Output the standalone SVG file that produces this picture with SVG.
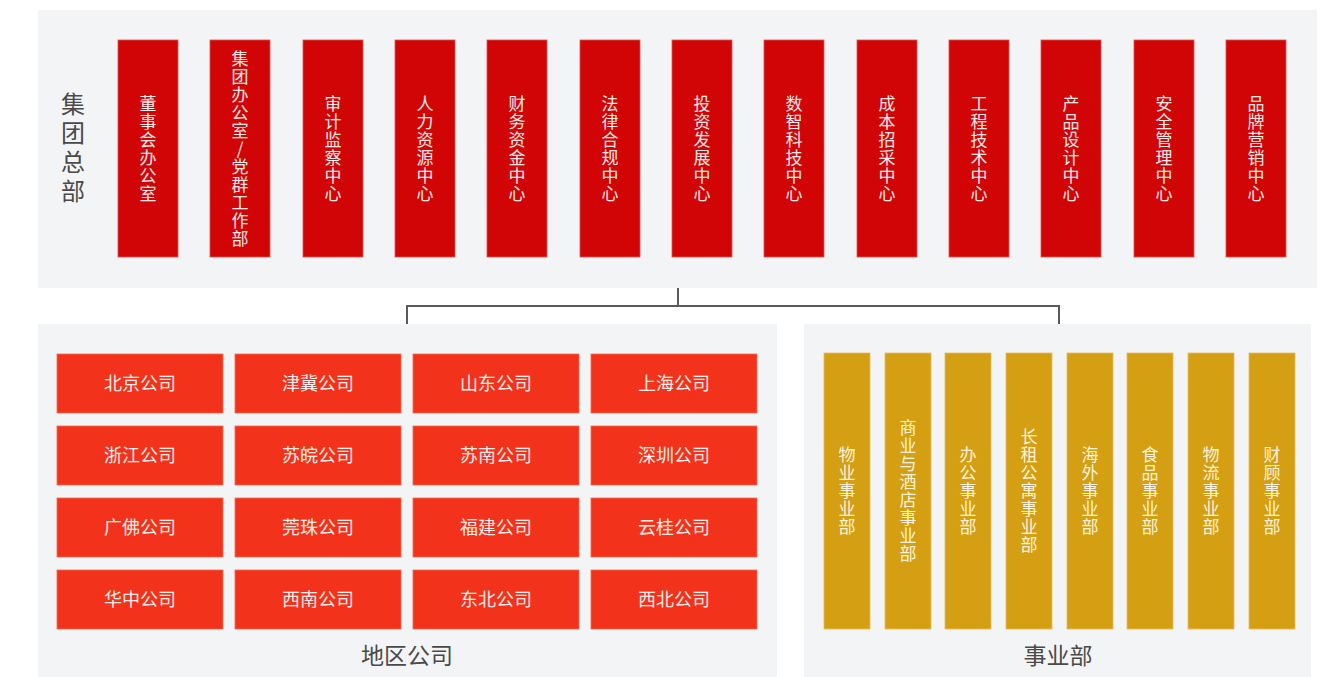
<svg xmlns="http://www.w3.org/2000/svg" width="1329" height="677" viewBox="0 0 1329 677">
<style>
.panel{fill:#f3f4f6}
.hq{fill:#d10505;stroke:#e45050;stroke-width:0.8}
.reg{fill:#f2321b;stroke:#f56a50;stroke-width:0.8}
.biz{fill:#d59f13;stroke:#e6bd55;stroke-width:0.8}
.vt,.vy,.vl{font-family:"Noto Sans CJK SC","Noto Sans",sans-serif;text-anchor:middle;writing-mode:vertical-rl;text-orientation:upright}
.vt{font-size:17px;fill:#fbeaea;letter-spacing:1px}
.vy{font-size:17px;fill:#fdf3dc;letter-spacing:1px}
.vl{font-size:24px;fill:#4a4a4a;letter-spacing:5px}
.ht{font-family:"Noto Sans CJK SC","Noto Sans",sans-serif;font-size:18px;fill:#fdeeea;text-anchor:middle}
.lbl{font-family:"Noto Sans CJK SC","Noto Sans",sans-serif;font-size:23px;fill:#4a4a4a;text-anchor:middle}
.conn{fill:none;stroke:#5a5a5a;stroke-width:2}
</style>
<rect width="1329" height="677" fill="#ffffff"/>
<g id="panels">
<rect class="panel" x="38" y="10" width="1279" height="278"/>
<rect class="panel" x="38" y="324" width="739" height="353"/>
<rect class="panel" x="804" y="324" width="507" height="353"/>
</g>
<g id="hq-label"><text class="vl" x="73" y="150">集团总部</text></g>
<g id="connectors">
<path class="conn" d="M678 288 V306 M407 306 H1059 M407 305 V324 M1059 305 V324"/>
</g>
<g id="hq1"><rect class="hq" x="118" y="40" width="60" height="217"/><text class="vt" x="148" y="149">董事会办公室</text></g>
<g id="hq2"><rect class="hq" x="210" y="40" width="60" height="217"/><text class="vt" x="240" y="149">集团办公室/党群工作部</text></g>
<g id="hq3"><rect class="hq" x="303" y="40" width="60" height="217"/><text class="vt" x="333" y="149">审计监察中心</text></g>
<g id="hq4"><rect class="hq" x="395" y="40" width="60" height="217"/><text class="vt" x="425" y="149">人力资源中心</text></g>
<g id="hq5"><rect class="hq" x="487" y="40" width="60" height="217"/><text class="vt" x="517" y="149">财务资金中心</text></g>
<g id="hq6"><rect class="hq" x="580" y="40" width="60" height="217"/><text class="vt" x="610" y="149">法律合规中心</text></g>
<g id="hq7"><rect class="hq" x="672" y="40" width="60" height="217"/><text class="vt" x="702" y="149">投资发展中心</text></g>
<g id="hq8"><rect class="hq" x="764" y="40" width="60" height="217"/><text class="vt" x="794" y="149">数智科技中心</text></g>
<g id="hq9"><rect class="hq" x="857" y="40" width="60" height="217"/><text class="vt" x="887" y="149">成本招采中心</text></g>
<g id="hq10"><rect class="hq" x="949" y="40" width="60" height="217"/><text class="vt" x="979" y="149">工程技术中心</text></g>
<g id="hq11"><rect class="hq" x="1041" y="40" width="60" height="217"/><text class="vt" x="1071" y="149">产品设计中心</text></g>
<g id="hq12"><rect class="hq" x="1134" y="40" width="60" height="217"/><text class="vt" x="1164" y="149">安全管理中心</text></g>
<g id="hq13"><rect class="hq" x="1226" y="40" width="60" height="217"/><text class="vt" x="1256" y="149">品牌营销中心</text></g>

<g id="r1"><rect class="reg" x="57" y="354" width="166" height="59"/><text class="ht" x="140" y="390">北京公司</text></g>
<g id="r2"><rect class="reg" x="235" y="354" width="166" height="59"/><text class="ht" x="318" y="390">津冀公司</text></g>
<g id="r3"><rect class="reg" x="413" y="354" width="166" height="59"/><text class="ht" x="496" y="390">山东公司</text></g>
<g id="r4"><rect class="reg" x="591" y="354" width="166" height="59"/><text class="ht" x="674" y="390">上海公司</text></g>
<g id="r5"><rect class="reg" x="57" y="426" width="166" height="59"/><text class="ht" x="140" y="462">浙江公司</text></g>
<g id="r6"><rect class="reg" x="235" y="426" width="166" height="59"/><text class="ht" x="318" y="462">苏皖公司</text></g>
<g id="r7"><rect class="reg" x="413" y="426" width="166" height="59"/><text class="ht" x="496" y="462">苏南公司</text></g>
<g id="r8"><rect class="reg" x="591" y="426" width="166" height="59"/><text class="ht" x="674" y="462">深圳公司</text></g>
<g id="r9"><rect class="reg" x="57" y="498" width="166" height="59"/><text class="ht" x="140" y="534">广佛公司</text></g>
<g id="r10"><rect class="reg" x="235" y="498" width="166" height="59"/><text class="ht" x="318" y="534">莞珠公司</text></g>
<g id="r11"><rect class="reg" x="413" y="498" width="166" height="59"/><text class="ht" x="496" y="534">福建公司</text></g>
<g id="r12"><rect class="reg" x="591" y="498" width="166" height="59"/><text class="ht" x="674" y="534">云桂公司</text></g>
<g id="r13"><rect class="reg" x="57" y="570" width="166" height="59"/><text class="ht" x="140" y="606">华中公司</text></g>
<g id="r14"><rect class="reg" x="235" y="570" width="166" height="59"/><text class="ht" x="318" y="606">西南公司</text></g>
<g id="r15"><rect class="reg" x="413" y="570" width="166" height="59"/><text class="ht" x="496" y="606">东北公司</text></g>
<g id="r16"><rect class="reg" x="591" y="570" width="166" height="59"/><text class="ht" x="674" y="606">西北公司</text></g>
<g id="region-label"><text class="lbl" x="407" y="664">地区公司</text></g>

<g id="b1"><rect class="biz" x="824" y="353" width="46" height="276"/><text class="vy" x="847" y="491">物业事业部</text></g>
<g id="b2"><rect class="biz" x="885" y="353" width="46" height="276"/><text class="vy" x="908" y="491">商业与酒店事业部</text></g>
<g id="b3"><rect class="biz" x="945" y="353" width="46" height="276"/><text class="vy" x="968" y="491">办公事业部</text></g>
<g id="b4"><rect class="biz" x="1006" y="353" width="46" height="276"/><text class="vy" x="1029" y="491">长租公寓事业部</text></g>
<g id="b5"><rect class="biz" x="1067" y="353" width="46" height="276"/><text class="vy" x="1090" y="491">海外事业部</text></g>
<g id="b6"><rect class="biz" x="1127" y="353" width="46" height="276"/><text class="vy" x="1150" y="491">食品事业部</text></g>
<g id="b7"><rect class="biz" x="1188" y="353" width="46" height="276"/><text class="vy" x="1211" y="491">物流事业部</text></g>
<g id="b8"><rect class="biz" x="1249" y="353" width="46" height="276"/><text class="vy" x="1272" y="491">财顾事业部</text></g>
<g id="biz-label"><text class="lbl" x="1058" y="664">事业部</text></g>
</svg>
